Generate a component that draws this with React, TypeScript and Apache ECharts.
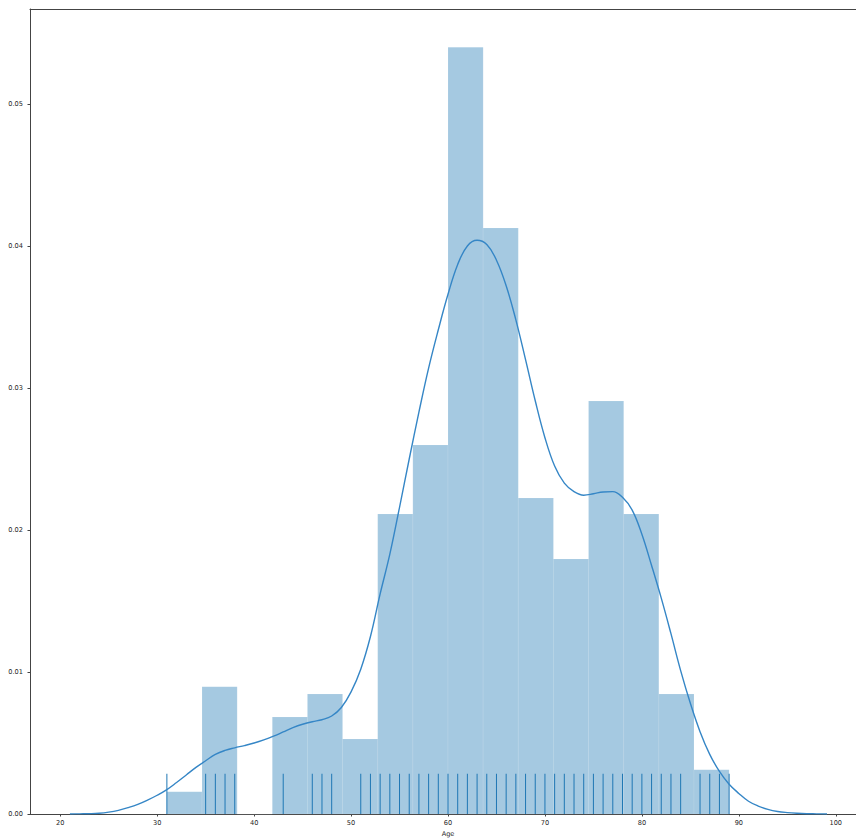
import React, { useEffect, useRef } from "react";
import * as echarts from "echarts";

const binEdges = [31, 34.625, 38.25, 41.875, 45.5, 49.125, 52.75, 56.375, 60, 63.625, 67.25, 70.875, 74.5, 78.125, 81.75, 85.375, 89];
const binDensity = [0.00157, 0.00897, 0, 0.00683, 0.00845, 0.00528, 0.02113, 0.02599, 0.054, 0.04127, 0.02225, 0.01796, 0.02908, 0.02113, 0.00845, 0.00312];

const rugAges = [31, 35, 36, 37, 38, 43, 46, 47, 48, 51, 52, 53, 54, 55, 56, 57, 58, 59, 60, 61, 62, 63, 64, 65, 66, 67, 68, 69, 70, 71, 72, 73, 74, 75, 76, 77, 78, 79, 80, 81, 82, 83, 84, 86, 87, 88, 89];

const kdeX = [21, 22, 23, 24, 25, 26, 27, 28, 29, 30, 31, 32, 33, 34, 35, 36, 37, 38, 39, 40, 41, 42, 43, 44, 45, 46, 47, 48, 49, 50, 51, 52, 53, 54, 55, 56, 57, 58, 59, 60, 61, 62, 63, 64, 65, 66, 67, 68, 69, 70, 71, 72, 73, 74, 75, 76, 77, 78, 79, 80, 81, 82, 83, 84, 85, 86, 87, 88, 89, 90, 91, 92, 93, 94, 95, 96, 97, 98, 99.1];
const kdeY = [0, 0.00001, 0.00002, 0.00005, 0.00013, 0.00026, 0.00045, 0.00068, 0.00098, 0.00132, 0.00172, 0.00222, 0.00275, 0.00328, 0.00375, 0.0042, 0.00448, 0.00466, 0.00482, 0.005, 0.00522, 0.00548, 0.00578, 0.00608, 0.00632, 0.0065, 0.00664, 0.0069, 0.0075, 0.0086, 0.0102, 0.0125, 0.0155, 0.0183, 0.0216, 0.025, 0.0283, 0.0314, 0.0341, 0.0366, 0.0387, 0.04, 0.0404, 0.0401, 0.039, 0.0372, 0.0348, 0.032, 0.0291, 0.0265, 0.0245, 0.0233, 0.0227, 0.02245, 0.02255, 0.02268, 0.0227, 0.0223, 0.0214, 0.0197, 0.0175, 0.0152, 0.0127, 0.0101, 0.0078, 0.0058, 0.0042, 0.003, 0.0021, 0.00145, 0.0009, 0.00056, 0.00033, 0.00018, 0.0001, 0.00005, 0.00002, 0.00001, 0];

const xTicks = [20, 30, 40, 50, 60, 70, 80, 90, 100];
const xMin = 16.88;
const xMax = 103.12;
const yMax = 0.05669;
const rugHeight = 0.05 * yMax;

const FONT = "DejaVu Sans";
const BAR_COLOR = "rgba(31,119,180,0.4)";
const LINE_COLOR = "#1f77b4";
const AXIS_COLOR = "#444";
const TEXT_COLOR = "#262626";

export default function App() {
  const ref = useRef<HTMLDivElement>(null);
  useEffect(() => {
    if (!ref.current) return;
    const chart = echarts.init(ref.current, undefined, { renderer: "svg" });
    const histData = binDensity.map((d, i) => [binEdges[i], binEdges[i + 1], d]);
    const rugData = rugAges.map((a) => [a, rugHeight]);
    const kdeData = kdeX.map((x, i) => [x, kdeY[i]]);
    chart.setOption({
      animation: false,
      backgroundColor: "#fff",
      textStyle: { fontFamily: FONT },
      grid: { left: 30, right: -10, top: 9, bottom: 25, containLabel: false, outerBoundsMode: "none" },
      xAxis: [
        {
          type: "value",
          min: xMin,
          max: xMax,
          name: "Age",
          nameLocation: "middle",
          nameGap: 16,
          nameTextStyle: { fontFamily: FONT, fontSize: 6.6, color: TEXT_COLOR },
          axisLine: { show: true, onZero: false, lineStyle: { color: AXIS_COLOR, width: 1 } },
          axisTick: { show: true, length: 2.5, lineStyle: { color: AXIS_COLOR }, customValues: xTicks },
          axisLabel: {
            fontFamily: FONT,
            fontSize: 6.6,
            color: TEXT_COLOR,
            margin: 5,
            customValues: xTicks,
            formatter: (v: number) => String(Math.round(v)),
          },
          splitLine: { show: false },
        },
        {
          type: "value",
          position: "top",
          min: xMin,
          max: xMax,
          axisLine: { show: true, onZero: false, lineStyle: { color: AXIS_COLOR, width: 1 } },
          axisTick: { show: false },
          axisLabel: { show: false },
          splitLine: { show: false },
        },
      ],
      yAxis: {
        type: "value",
        min: 0,
        max: yMax,
        interval: 0.01,
        axisLine: { show: true, onZero: false, lineStyle: { color: AXIS_COLOR, width: 1 } },
        axisTick: { show: true, length: 2.5, lineStyle: { color: AXIS_COLOR } },
        axisLabel: {
          fontFamily: FONT,
          fontSize: 6.6,
          color: TEXT_COLOR,
          margin: 7,
          showMaxLabel: false,
          formatter: (v: number) => v.toFixed(2),
        },
        splitLine: { show: false },
      },
      series: [
        {
          type: "custom",
          name: "hist",
          data: histData,
          encode: { x: [0, 1], y: 2 },
          renderItem: (params: any, api: any) => {
            const p1 = api.coord([api.value(0), api.value(2)]);
            const p2 = api.coord([api.value(1), 0]);
            return {
              type: "rect",
              shape: { x: p1[0], y: p1[1], width: p2[0] - p1[0], height: p2[1] - p1[1] },
              style: { fill: BAR_COLOR, stroke: "rgba(255,255,255,0.2)", lineWidth: 0.5 },
            };
          },
          z: 1,
        },
        {
          type: "custom",
          name: "rug",
          data: rugData,
          encode: { x: 0, y: 1 },
          renderItem: (params: any, api: any) => {
            const p1 = api.coord([api.value(0), 0]);
            const p2 = api.coord([api.value(0), api.value(1)]);
            return {
              type: "line",
              shape: { x1: p1[0], y1: p1[1], x2: p2[0], y2: p2[1] },
              style: { stroke: LINE_COLOR, lineWidth: 1 },
            };
          },
          z: 2,
        },
        {
          type: "line",
          name: "kde",
          data: kdeData,
          smooth: 0.4,
          showSymbol: false,
          lineStyle: { color: "#3586c6", width: 1.4 },
          z: 3,
        },
      ],
    });
    return () => chart.dispose();
  }, []);
  return <div ref={ref} style={{ position: "absolute", left: 0, top: 0, width: 856, height: 839 }} />;
}
